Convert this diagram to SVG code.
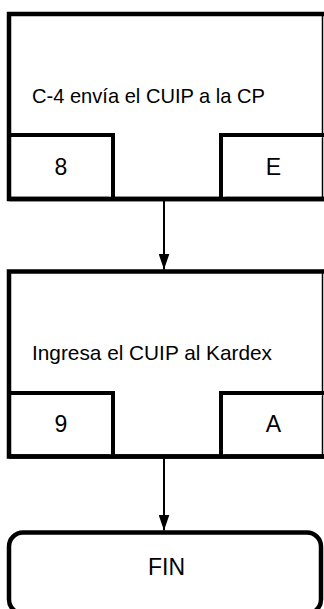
<svg xmlns="http://www.w3.org/2000/svg" width="324" height="609" viewBox="0 0 324 609">
<defs>
<style>
.thick{fill:none;stroke:#000;stroke-width:4.5;stroke-linejoin:miter}
.inner{fill:#fff;stroke:#000;stroke-width:4}
.edge{stroke:#000;stroke-width:1.5}
.t{font-family:"Liberation Sans",Arial,sans-serif;font-size:21px;fill:#000}
.big{font-size:23px}
.conn{stroke:#000;stroke-width:2;fill:none}
</style>
<marker id="arr" viewBox="0 0 16 11" refX="16" refY="5.5" markerWidth="16" markerHeight="11" markerUnits="userSpaceOnUse" orient="auto">
<path d="M0,0 L16,5.5 L0,11 Z" fill="#000"/>
</marker>
</defs>
<rect width="324" height="609" fill="#fff"/>
<g id="connectors">
<line class="conn" x1="164" y1="201" x2="164" y2="269.5" marker-end="url(#arr)"/>
<line class="conn" x1="164" y1="458.5" x2="164" y2="530.5" marker-end="url(#arr)"/>
</g>
<g id="node1">
<path class="thick" d="M330,14 H9 V199 H330"/>
<line class="edge" x1="322.5" y1="12" x2="322.5" y2="201"/>
<path class="inner" d="M9,135 H113 V199"/>
<path class="inner" d="M326,135 H221 V199"/>
<path class="thick" d="M330,199 H9"/>
<text class="t" x="32" y="103" textLength="233" lengthAdjust="spacingAndGlyphs">C-4 envía el CUIP a la CP</text>
<text class="t big" x="61" y="175" text-anchor="middle">8</text>
<text class="t big" x="273.5" y="175" text-anchor="middle">E</text>
</g>
<g id="node2">
<path class="thick" d="M330,271.5 H9 V456.5 H330"/>
<line class="edge" x1="322.5" y1="269.5" x2="322.5" y2="458.5"/>
<path class="inner" d="M9,393 H113 V456.5"/>
<path class="inner" d="M326,393 H221 V456.5"/>
<path class="thick" d="M330,456.5 H9"/>
<text class="t" x="32" y="360" textLength="240" lengthAdjust="spacingAndGlyphs">Ingresa el CUIP al Kardex</text>
<text class="t big" x="61" y="432" text-anchor="middle">9</text>
<text class="t big" x="273.5" y="432" text-anchor="middle">A</text>
</g>
<g id="fin">
<rect class="thick" x="9" y="532.5" width="312" height="81" rx="14"/>
<text class="t big" x="166.5" y="575" text-anchor="middle">FIN</text>
</g>
</svg>
